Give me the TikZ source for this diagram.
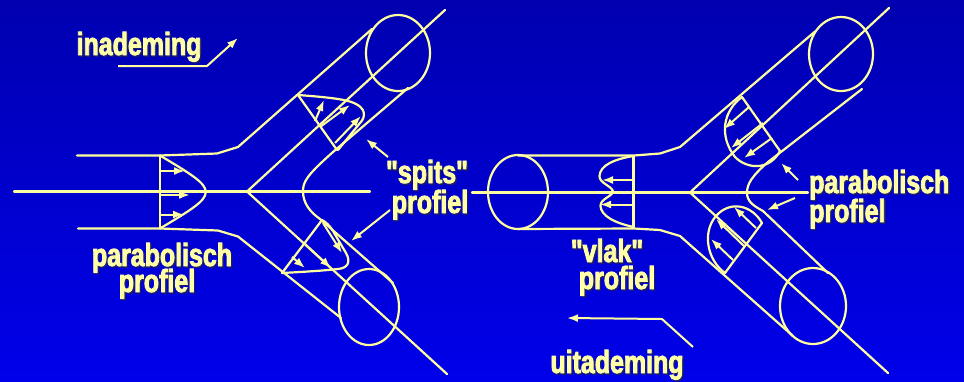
\documentclass[tikz,border=0pt]{standalone}
\usepackage{fontspec}
\newfontfamily\lblfont{Liberation Sans}[FakeStretch=0.78, BoldFeatures={FakeBold=2.5}]
\usetikzlibrary{arrows.meta}
\definecolor{bgtop}{RGB}{0,0,176}
\definecolor{bgbot}{RGB}{0,0,234}
\definecolor{wire}{RGB}{255,255,160}
\definecolor{ink}{RGB}{255,255,168}
\definecolor{shadowink}{RGB}{30,30,100}
% text with a small dark drop shadow
\newcommand{\shadowed}[1]{{\color{shadowink}\rlap{\kern1.4pt\raisebox{-1.4pt}{#1}}}#1}
\tikzset{
  wall/.style={draw=wire, line width=2.2pt, line join=round, line cap=round},
  flow/.style={draw=wire, line width=2pt, line join=round, -{Latex[length=11pt,width=8pt]}},
  lbl/.style={text=ink, font=\lblfont\bfseries\fontsize{32}{28}\selectfont, inner sep=0pt, anchor=base},
}
\begin{document}
\begin{tikzpicture}[x=1pt,y=-1pt]
\useasboundingbox (0,0) rectangle (964,381);
\begin{scope}[y=1pt]
  \shade[top color=bgtop, bottom color=bgbot] (0,-381) rectangle (964,0);
\end{scope}

% ---------- inhalation: bifurcation ----------
\draw[wall] (14,191.5) -- (370,191.5);
\draw[wall] (77,155.5) -- (160,155.5) -- (217,153.5) -- (238,147) -- (372,29);
\draw[wall] (78,228.5) -- (160,228.5) -- (218,230.5) -- (238,236.5) -- (341,318);
\draw[wall] (247,191.5) -- (445,10);
\draw[wall] (247,191.5) -- (447,374);
\draw[wall] (408,88) -- (333,152) .. controls (306,176) and (303,182) .. (303,191.5)
  .. controls (303,203) and (310,212) .. (320,219) -- (393,283);
\draw[wall] (398,53) ellipse [x radius=32, y radius=38];
\draw[wall] (369,307) ellipse [x radius=30, y radius=38];

% parabolic profile in the parent tube
\draw[wall] (160,155.5) -- (160,228.5);
\draw[wall] (160,155.5) .. controls (221,192) .. (160,228.5);
\draw[flow] (160,171) -- (185,171);
\draw[flow] (160,195) -- (190,195);
\draw[flow] (160,214.5) -- (184,214.5);

% skewed profile, upper daughter
\draw[wall] (298,95) -- (337,150);
\draw[wall] (298,95) .. controls (325,97) and (345,99) .. (354,103)
  .. controls (366,108) and (366,117) .. (360,123) -- (338,150);
\draw[flow] (315,121) -- (324,100);
\draw[flow] (320,127) -- (350,105);
\draw[flow] (335,143) -- (361,116);

% skewed profile, lower daughter
\draw[wall] (322,220) -- (282,273);
\draw[wall] (322,220) .. controls (326,222) and (330,226) .. (333,231) -- (346,253)
  .. controls (351,262) and (348,268) .. (338,269) .. controls (320,271) and (300,272) .. (282,273);
\draw[flow] (323,223) -- (342,253);
\draw[flow] (304,243) -- (331,268);
\draw[flow] (292,257) -- (305,268);

% labels
\node[lbl] (inad) at (139,55) {\shadowed{inademing}};
\coordinate (inA) at (118,66);
\coordinate (inB) at (207,66);
\coordinate (inC) at (238,38);
\draw[flow] (inA) -- (inB) -- (inC);

\node[lbl] (spits) at (427,183) {\shadowed{"spits"}};
\node[lbl] (spprof) at (430,213) {\shadowed{profiel}};
\coordinate (spA) at (388,157);
\coordinate (spB) at (366,139);
\coordinate (spC) at (390,210);
\coordinate (spD) at (351,241);
\draw[flow] (spA) -- (spB);
\draw[flow] (spC) -- (spD);

\node[lbl] (parL) at (162,266) {\shadowed{parabolisch}};
\node[lbl] (profL) at (157,292) {\shadowed{profiel}};

% ---------- exhalation: bifurcation ----------
\draw[wall] (472,192.5) -- (808,192.5);
\draw[wall] (518,192) ellipse [x radius=30, y radius=37];
\draw[wall] (518,155.5) -- (634,155.5) -- (660,153.5) -- (680,147) -- (815,31.5);
\draw[wall] (518,229) -- (634,228.5) -- (660,230) -- (680,236) -- (793,336);
\draw[wall] (841,54) ellipse [x radius=32, y radius=37];
\draw[wall] (813,306) ellipse [x radius=33, y radius=38];
\draw[wall] (690,192.5) -- (889,8);
\draw[wall] (690,192.5) -- (888,373);
\draw[wall] (862,89) -- (768,162) .. controls (752,176) and (747,184) .. (747,192.5)
  .. controls (747,201) and (752,205) .. (763,211) -- (828,273);

% flat profile in the parent tube
\draw[wall] (633.5,156) -- (633.5,227);
\draw[wall] (633.5,156) .. controls (615,159) and (600,165) .. (599.5,176)
  .. controls (599,183) and (612,186) .. (613,191.5)
  .. controls (613,196) and (600,199) .. (600.5,206)
  .. controls (601,216) and (615,223) .. (633.5,227);
\draw[flow] (633.5,180) -- (602,180);
\draw[flow] (633.5,204.5) -- (600,204.5);

% parabolic profile, upper daughter
\draw[wall] (742,97) -- (780,151);
\draw[wall] (742,97) .. controls (724,110) and (718,135) .. (735,157)
  .. controls (748,170) and (770,170) .. (780,151);
\draw[flow] (749,107) -- (724,129);
\draw[flow] (763,123) -- (731,148);
\draw[flow] (772,138) -- (744,158);

% parabolic profile, lower daughter
\draw[wall] (762,223) -- (725,273);
\draw[wall] (762,223) .. controls (752,205) and (730,200) .. (716,216)
  .. controls (702,232) and (707,260) .. (725,273);
\draw[flow] (756,228) -- (734,207);
\draw[flow] (745,247) -- (716,219);
\draw[flow] (733,260) -- (711,239);

% labels
\node[lbl] (vlak) at (607,262) {\shadowed{"vlak"}};
\node[lbl] (vprof) at (617,289) {\shadowed{profiel}};
\node[lbl, anchor=base west] (parR) at (809,193) {\shadowed{parabolisch}};
\node[lbl, anchor=base west] (profR) at (809,222) {\shadowed{profiel}};
\coordinate (prA) at (798,180);
\coordinate (prB) at (781,163);
\coordinate (prC) at (795,198);
\coordinate (prD) at (767,210);
\draw[flow] (prA) -- (prB);
\draw[flow] (prC) -- (prD);

\node[lbl] (uit) at (617,373) {\shadowed{uitademing}};
\coordinate (uiA) at (693,347);
\coordinate (uiB) at (662,319);
\coordinate (uiC) at (567,318);
\draw[flow] (uiA) -- (uiB) -- (uiC);
\end{tikzpicture}
\end{document}
